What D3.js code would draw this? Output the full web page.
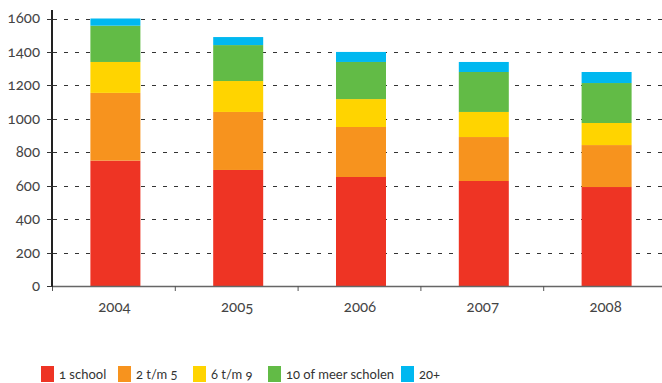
<!DOCTYPE html>
<html><head><meta charset="utf-8">
<script src="https://cdn.jsdelivr.net/npm/d3@7"></script>
<style>
html,body{margin:0;padding:0;background:#fff;}
svg{display:block;font-family:Lato, "Open Sans", sans-serif;font-feature-settings:"onum";font-variant-numeric:oldstyle-nums;}
</style></head><body>
<svg id="c" width="662" height="383"></svg>
<script>
const years = ["2004","2005","2006","2007","2008"];
const seriesNames = ["1 school","2 t/m 5","6 t/m 9","10 of meer scholen","20+"];
const s1 = [750, 694, 652, 628, 592];
const s2 = [405, 347, 299, 263, 251];
const s3 = [185, 185, 167, 150, 132];
const s4 = [217, 215, 222, 239, 239];
const s5 = [43, 48, 60, 60, 66];
const yTicks = [0,200,400,600,800,1000,1200,1400,1600];
const colors = ["#EE3424","#F7931E","#FFD400","#62BB46","#00B8F0"];

(function(){
const rows = years.map((y,i)=>({year:y, "1 school":s1[i], "2 t/m 5":s2[i], "6 t/m 9":s3[i], "10 of meer scholen":s4[i], "20+":s5[i]}));
const stacked = d3.stack().keys(seriesNames)(rows);

const svg = d3.select("#c");
const mLeft = 52, mRight = 666, mTop = 18.5, mBottom = 286;
const x = d3.scaleBand().domain(years).range([mLeft, mRight]);
const y = d3.scaleLinear().domain([0,1600]).range([mBottom, mTop]);
const barW = 50;

// gridlines
svg.append("g").selectAll("line").data(yTicks.filter(t=>t>0)).join("line")
  .attr("x1", mLeft+1).attr("x2", 662)
  .attr("y1", d=>Math.round(y(d))+0.5).attr("y2", d=>Math.round(y(d))+0.5)
  .attr("stroke","#333").attr("stroke-width",1).attr("stroke-dasharray","4,7");

// bars
svg.append("g").selectAll("g").data(stacked).join("g")
  .attr("fill",(d,i)=>colors[i])
  .selectAll("rect").data(d=>d).join("rect")
  .attr("x", d=>x(d.data.year) + (x.bandwidth()-barW)/2 + 2)
  .attr("width", barW)
  .attr("y", d=>y(d[1]))
  .attr("height", d=>y(d[0])-y(d[1]));

// x axis
const xAxis = svg.append("g").attr("transform",`translate(0,${mBottom})`);
xAxis.append("line").attr("x1",mLeft).attr("x2",662).attr("y1",0.5).attr("y2",0.5).attr("stroke","#666").attr("stroke-width",1.5);
xAxis.selectAll("line.t").data(years).join("line").attr("class","t")
  .attr("x1",d=>x(d)+0.5).attr("x2",d=>x(d)+0.5).attr("y1",0).attr("y2",5).attr("stroke","#555");
xAxis.selectAll("text").data(years).join("text")
  .attr("x",d=>x(d)+x.bandwidth()/2+1).attr("y",26)
  .attr("text-anchor","middle").attr("font-size",15).attr("fill","#444").text(d=>d);

// y axis
const yAxis = svg.append("g");
yAxis.append("line").attr("x1",mLeft).attr("x2",mLeft).attr("y1",10).attr("y2",mBottom+1).attr("stroke","#222").attr("stroke-width",2);
yAxis.selectAll("line.t").data(yTicks).join("line").attr("class","t")
  .attr("x1",mLeft-5).attr("x2",mLeft).attr("y1",d=>Math.round(y(d))+0.5).attr("y2",d=>Math.round(y(d))+0.5).attr("stroke","#333");
yAxis.selectAll("text").data(yTicks).join("text")
  .attr("x",40).attr("y",d=>y(d)).attr("dy","0.33em")
  .attr("text-anchor","end").attr("font-size",15).attr("fill","#444").text(d=>d);

// legend
const legendX = [41,118,193,268,401];
const lg = svg.append("g").selectAll("g").data(seriesNames).join("g")
  .attr("transform",(d,i)=>`translate(${legendX[i]},366)`);
lg.append("rect").attr("width",13).attr("height",16).attr("fill",(d,i)=>colors[i]);
lg.append("text").attr("x",18).attr("y",13).attr("font-size",13).attr("fill","#333").text(d=>d);
})();
</script>
</body></html>
